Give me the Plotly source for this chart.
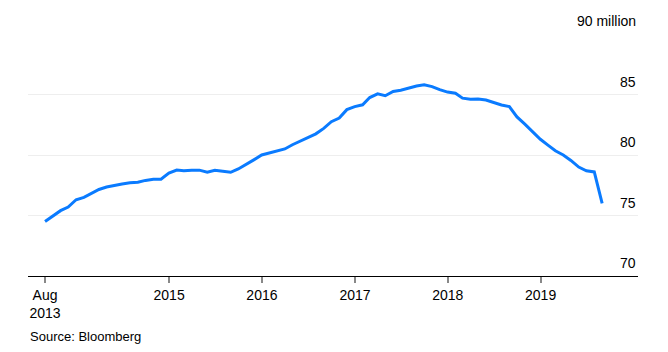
import pandas as pd
import plotly.graph_objects as go

# Monthly values (millions), Aug 2013 .. Aug 2019 (month-end)
dates = pd.date_range("2013-08-31", periods=73, freq="ME")
values = [
    74.5, 74.95, 75.4, 75.7, 76.3, 76.5, 76.8, 77.15, 77.35, 77.5,
    77.6, 77.7, 77.75, 77.9, 78.0, 78.0, 78.5, 78.75, 78.7, 78.75,
    78.75, 78.57, 78.73, 78.65, 78.57, 78.85, 79.2, 79.6, 80.0, 80.15,
    80.3, 80.5, 80.85, 81.15, 81.5, 81.75, 82.2, 82.75, 83.05, 83.75,
    84.0, 84.15, 84.75, 85.05, 84.9, 85.25, 85.35, 85.55, 85.7, 85.8,
    85.65, 85.4, 85.2, 85.1, 84.7, 84.6, 84.62, 84.55, 84.35, 84.13,
    84.0, 83.15, 82.55, 81.95, 81.3, 80.8, 80.35, 80.0, 79.55, 79.0,
    78.7, 78.6, 76.0,
]

x_tickvals = ["2013-08-31", "2015-01-01", "2016-01-01", "2017-01-01", "2018-01-01", "2019-01-01"]
x_ticktext = ["Aug<br>2013", "2015", "2016", "2017", "2018", "2019"]
y_tickvals = [70, 75, 80, 85, 90]
y_ticktext = ["70", "75", "80", "85", "90 million"]

FONT = "Liberation Sans, Arial, sans-serif"

fig = go.Figure()
fig.add_trace(go.Scatter(
    x=dates, y=values, mode="lines",
    line=dict(color="#0a7bff", width=3),
    hoverinfo="skip", showlegend=False,
))

annotations = []
for v, t in zip(y_tickvals, y_ticktext):
    annotations.append(dict(
        x=1, xref="paper", y=v, yref="y", text=t, showarrow=False,
        xanchor="right", yanchor="bottom", yshift=3,
        font=dict(family=FONT, size=14, color="#000000"),
    ))
annotations.append(dict(
    x=0, xref="paper", y=0, yref="paper", text="Source: Bloomberg",
    showarrow=False, xanchor="left", yanchor="bottom", yshift=-70,
    font=dict(family=FONT, size=13, color="#000000"),
))

fig.update_layout(
    width=668, height=352,
    margin=dict(l=28, r=30, t=34, b=76),
    paper_bgcolor="white", plot_bgcolor="white",
    annotations=annotations,
    xaxis=dict(
        type="date",
        range=["2013-06-25", "2020-01-19"],
        tickvals=x_tickvals, ticktext=x_ticktext,
        ticks="outside", ticklen=6, tickwidth=2, tickcolor="#888888",
        showline=True, linecolor="#000000", linewidth=1,
        showgrid=False, zeroline=False,
        tickfont=dict(family=FONT, size=14, color="#000000"),
    ),
    yaxis=dict(
        range=[70, 90], tickvals=y_tickvals,
        showticklabels=False, ticks="",
        showgrid=True, gridcolor="#eeeeee", gridwidth=1,
        zeroline=False, showline=False,
    ),
)

fig.write_html("out.html")
